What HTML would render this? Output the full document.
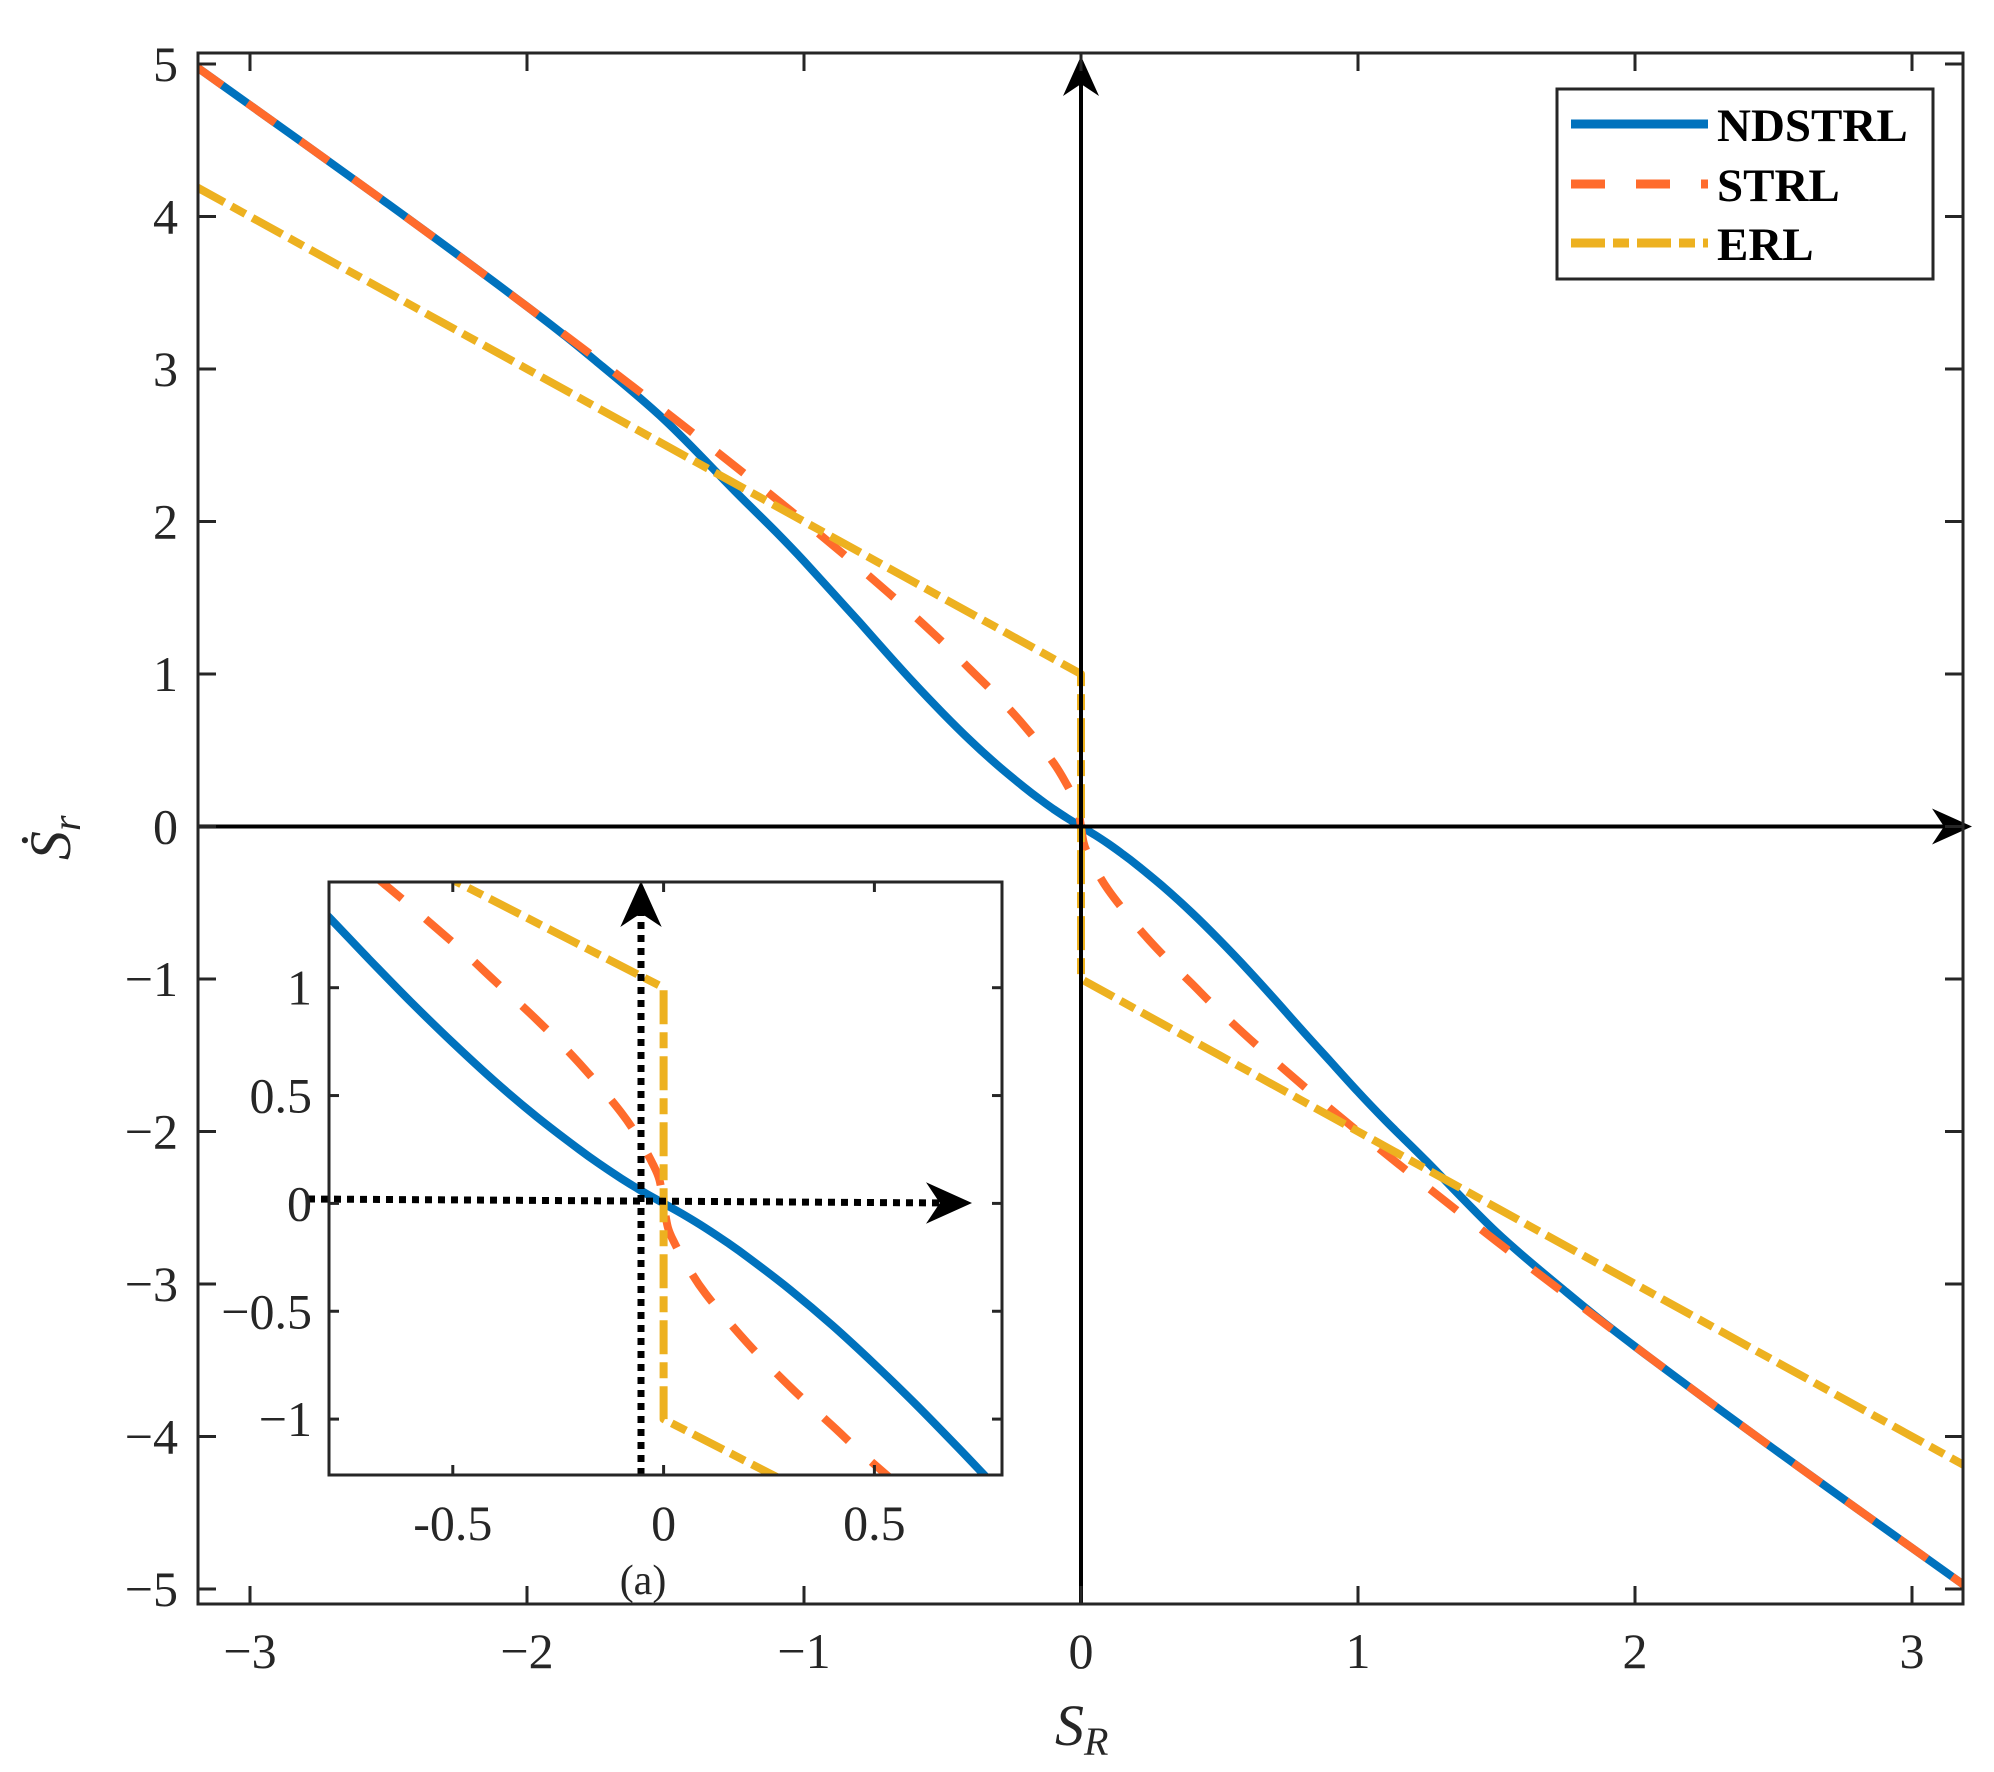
<!DOCTYPE html>
<html><head><meta charset="utf-8">
<style>
html,body{margin:0;padding:0;background:#fff;overflow:hidden;width:1994px;height:1772px;}
svg{display:block;}
text{font-family:"Liberation Serif",serif;fill:#262626;}
</style></head>
<body>
<svg id="chart" width="1994" height="1772" viewBox="0 0 1994 1772" xmlns="http://www.w3.org/2000/svg">
<defs>
<clipPath id="mainClip"><rect x="198" y="53" width="1765" height="1551"/></clipPath>
<clipPath id="insetClip"><rect x="329" y="882" width="673" height="593"/></clipPath>
</defs>
<g id="main"></g>
<g id="inset"></g>
<g id="legend"></g>
</svg>
<script>
// ---- data (positive half; curves are odd-symmetric) ----
const ndstrlX = [0,0.05,0.1,0.15,0.2,0.3,0.4,0.5,0.6,0.7,0.8,0.9,1.0,1.1,1.25,1.5,1.75,2.0,2.5,3.2];
const ndstrlY = [0,0.055,0.115,0.18,0.25,0.40,0.565,0.745,0.935,1.135,1.34,1.54,1.74,1.93,2.2,2.66,3.05,3.41,4.08,4.99];
const strlX = [0,0.01,0.025,0.05,0.1,0.2,0.3,0.4,0.5,0.7,1.0,1.5,2.0,2.5,3.2];
const strlY = [0,0.11,0.18,0.27,0.42,0.65,0.85,1.03,1.21,1.54,2.0,2.72,3.41,4.08,4.99];
const erlX = [0,0.5,1.0,1.5,2.0,2.5,3.2];
const erlY = [1.0,1.5,2.0,2.5,3.0,3.5,4.2];
const mainXTicks = [-3,-2,-1,0,1,2,3];
const mainYTicks = [5,4,3,2,1,0,-1,-2,-3,-4,-5];
const insetXTicks = [-0.5,0,0.5];
const insetYTicks = [1,0.5,0,-0.5,-1];
const insetXLabels = ["-0.5","0","0.5"];
const insetYLabels = ["1","0.5","0","\u22120.5","\u22121"];
const seriesNames = ["NDSTRL","STRL","ERL"];

const NS="http://www.w3.org/2000/svg";
function mk(tag,attrs,parent){const e=document.createElementNS(NS,tag);for(const k in attrs)e.setAttribute(k,attrs[k]);parent.appendChild(e);return e;}
const COL={blue:"#0072BD",orange:"#FF6B2C",yellow:"#EDB120",ax:"#262626"};
const DASH={solid:"",dash:"34 31",dashdot:"34 8 16 8"};

const mx=v=>1081+v*277, my=v=>826.5-v*152.5;
const ix=v=>663.6+v*421.6, iy=v=>1203.4-v*215.7;

function fullSeries(xs,ys){
  const pts=[];
  for(let i=xs.length-1;i>=0;i--) pts.push([-xs[i],ys[i]]);
  for(let i=1;i<xs.length;i++) pts.push([xs[i],-ys[i]]);
  return pts;
}
function fullSeriesJump(xs,ys){
  const pts=[];
  for(let i=xs.length-1;i>=0;i--) pts.push([-xs[i],ys[i]]);
  for(let i=0;i<xs.length;i++) pts.push([xs[i],-ys[i]]);
  return pts;
}
function smoothPath(pts,fx,fy){
  const p=pts.map(a=>[fx(a[0]),fy(a[1])]);
  let d="M"+p[0][0].toFixed(1)+","+p[0][1].toFixed(1);
  for(let i=0;i<p.length-1;i++){
    const p0=p[Math.max(i-1,0)],p1=p[i],p2=p[i+1],p3=p[Math.min(i+2,p.length-1)];
    const c1=[p1[0]+(p2[0]-p0[0])/6,p1[1]+(p2[1]-p0[1])/6];
    const c2=[p2[0]-(p3[0]-p1[0])/6,p2[1]-(p3[1]-p1[1])/6];
    d+="C"+c1[0].toFixed(1)+","+c1[1].toFixed(1)+" "+c2[0].toFixed(1)+","+c2[1].toFixed(1)+" "+p2[0].toFixed(1)+","+p2[1].toFixed(1);
  }
  return d;
}
function linePath(pts,fx,fy){return pts.map((a,i)=>(i?"L":"M")+fx(a[0]).toFixed(1)+","+fy(a[1]).toFixed(1)).join("");}

function drawSeries(g,clip,fx,fy,sw){
  const defs=[
    {name:"ndstrl-line",d:smoothPath(fullSeries(ndstrlX,ndstrlY),fx,fy),c:COL.blue,da:DASH.solid},
    {name:"strl-line",d:smoothPath(fullSeries(strlX,strlY),fx,fy),c:COL.orange,da:DASH.dash},
    {name:"erl-line",d:linePath(fullSeriesJump(erlX,erlY),fx,fy),c:COL.yellow,da:DASH.dashdot}
  ];
  const cg=mk("g",{"clip-path":"url(#"+clip+")"},g);
  for(const s of defs){
    const el=mk("path",{d:s.d,fill:"none",stroke:s.c,"stroke-width":sw,"stroke-dasharray":s.da,"stroke-linejoin":"round"},cg);
    
    
  }
}
function arrowHead(g,x,y,dir,size){
  let d;
  if(dir==="up") d=`M${x},${y} L${x-size*0.45},${y+size} L${x},${y+size*0.7} L${x+size*0.45},${y+size} Z`;
  else d=`M${x},${y} L${x-size},${y-size*0.45} L${x-size*0.7},${y} L${x-size},${y+size*0.45} Z`;
  const a=mk("path",{d:d,fill:"#000"},g);
  
  
}

// ===== MAIN =====
const gm=document.getElementById("main");
drawSeries(gm,"mainClip",mx,my,8);
let l=mk("line",{x1:198,y1:my(0),x2:1955,y2:my(0),stroke:"#000","stroke-width":4},gm);


arrowHead(gm,1972,my(0),"right",40);
l=mk("line",{x1:mx(0),y1:1604,x2:mx(0),y2:72,stroke:"#000","stroke-width":4},gm);


arrowHead(gm,mx(0),56,"up",40);
let bx=mk("rect",{x:198,y:53,width:1765,height:1551,fill:"none",stroke:COL.ax,"stroke-width":3},gm);


for(const t of mainXTicks){
  const x=mx(t);
  mk("line",{x1:x,y1:1604,x2:x,y2:1586,stroke:COL.ax,"stroke-width":3},gm);
  mk("line",{x1:x,y1:53,x2:x,y2:71,stroke:COL.ax,"stroke-width":3},gm);
  const tx=mk("text",{x:x,y:1668,"font-size":50,"text-anchor":"middle"},gm);
  tx.textContent=t<0?"\u2212"+(-t):String(t);
  
  
}
for(const t of mainYTicks){
  const y=my(t);
  mk("line",{x1:198,y1:y,x2:216,y2:y,stroke:COL.ax,"stroke-width":3},gm);
  mk("line",{x1:1963,y1:y,x2:1945,y2:y,stroke:COL.ax,"stroke-width":3},gm);
  const tx=mk("text",{x:178,y:y+17,"font-size":50,"text-anchor":"end"},gm);
  tx.textContent=t<0?"\u2212"+(-t):String(t);
  
  
}
let xt=mk("text",{x:1055,y:1745,"font-size":58,"font-style":"italic"},gm);
xt.innerHTML='S<tspan font-size="40" dy="10">R</tspan>';


let yt=mk("text",{x:0,y:0,"font-size":58,"font-style":"italic",transform:"translate(70,860) rotate(-90)"},gm);
yt.innerHTML='Ṡ<tspan font-size="40" dy="10">r</tspan>';



// ===== INSET =====
const gi=document.getElementById("inset");
let ib=mk("rect",{x:329,y:882,width:673,height:593,fill:"#fff",stroke:"none"},gi);


drawSeries(gi,"insetClip",ix,iy,8);
l=mk("line",{x1:308,y1:1199,x2:950,y2:1203,stroke:"#000","stroke-width":7,"stroke-dasharray":"7 6"},gi);


arrowHead(gi,972,1203,"right",46);
l=mk("line",{x1:641,y1:1475,x2:641,y2:905,stroke:"#000","stroke-width":7,"stroke-dasharray":"7 6"},gi);


arrowHead(gi,641,881,"up",46);
ib=mk("rect",{x:329,y:882,width:673,height:593,fill:"none",stroke:COL.ax,"stroke-width":3},gi);


insetXTicks.forEach((t,i)=>{
  const x=ix(t);
  mk("line",{x1:x,y1:1475,x2:x,y2:1465,stroke:COL.ax,"stroke-width":3},gi);
  mk("line",{x1:x,y1:882,x2:x,y2:892,stroke:COL.ax,"stroke-width":3},gi);
  const tx=mk("text",{x:x,y:1540,"font-size":50,"text-anchor":"middle"},gi);
  tx.textContent=insetXLabels[i];
  
  
});
insetYTicks.forEach((t,i)=>{
  const y=iy(t);
  mk("line",{x1:329,y1:y,x2:339,y2:y,stroke:COL.ax,"stroke-width":3},gi);
  mk("line",{x1:1002,y1:y,x2:992,y2:y,stroke:COL.ax,"stroke-width":3},gi);
  const tx=mk("text",{x:312,y:y+17,"font-size":50,"text-anchor":"end"},gi);
  tx.textContent=insetYLabels[i];
  
  
});
let cap=mk("text",{x:643,y:1594,"font-size":42,"text-anchor":"middle"},gi);
cap.textContent="(a)";



// ===== LEGEND =====
const gl=document.getElementById("legend");
let lb=mk("rect",{x:1557,y:89,width:376,height:190,fill:"#fff",stroke:COL.ax,"stroke-width":3},gl);


const legCols=[COL.blue,COL.orange,COL.yellow], legDash=[DASH.solid,DASH.dash,DASH.dashdot], legY=[124,184,243];
seriesNames.forEach((n,i)=>{
  const ln=mk("line",{x1:1571,y1:legY[i],x2:1708,y2:legY[i],stroke:legCols[i],"stroke-width":9,"stroke-dasharray":legDash[i]},gl);
  
  
  const tx=mk("text",{x:1717,y:legY[i]+17,"font-size":47,"font-weight":"bold",style:"fill:#000"},gl);
  tx.textContent=n;
  
  
});
</script>
</body></html>
